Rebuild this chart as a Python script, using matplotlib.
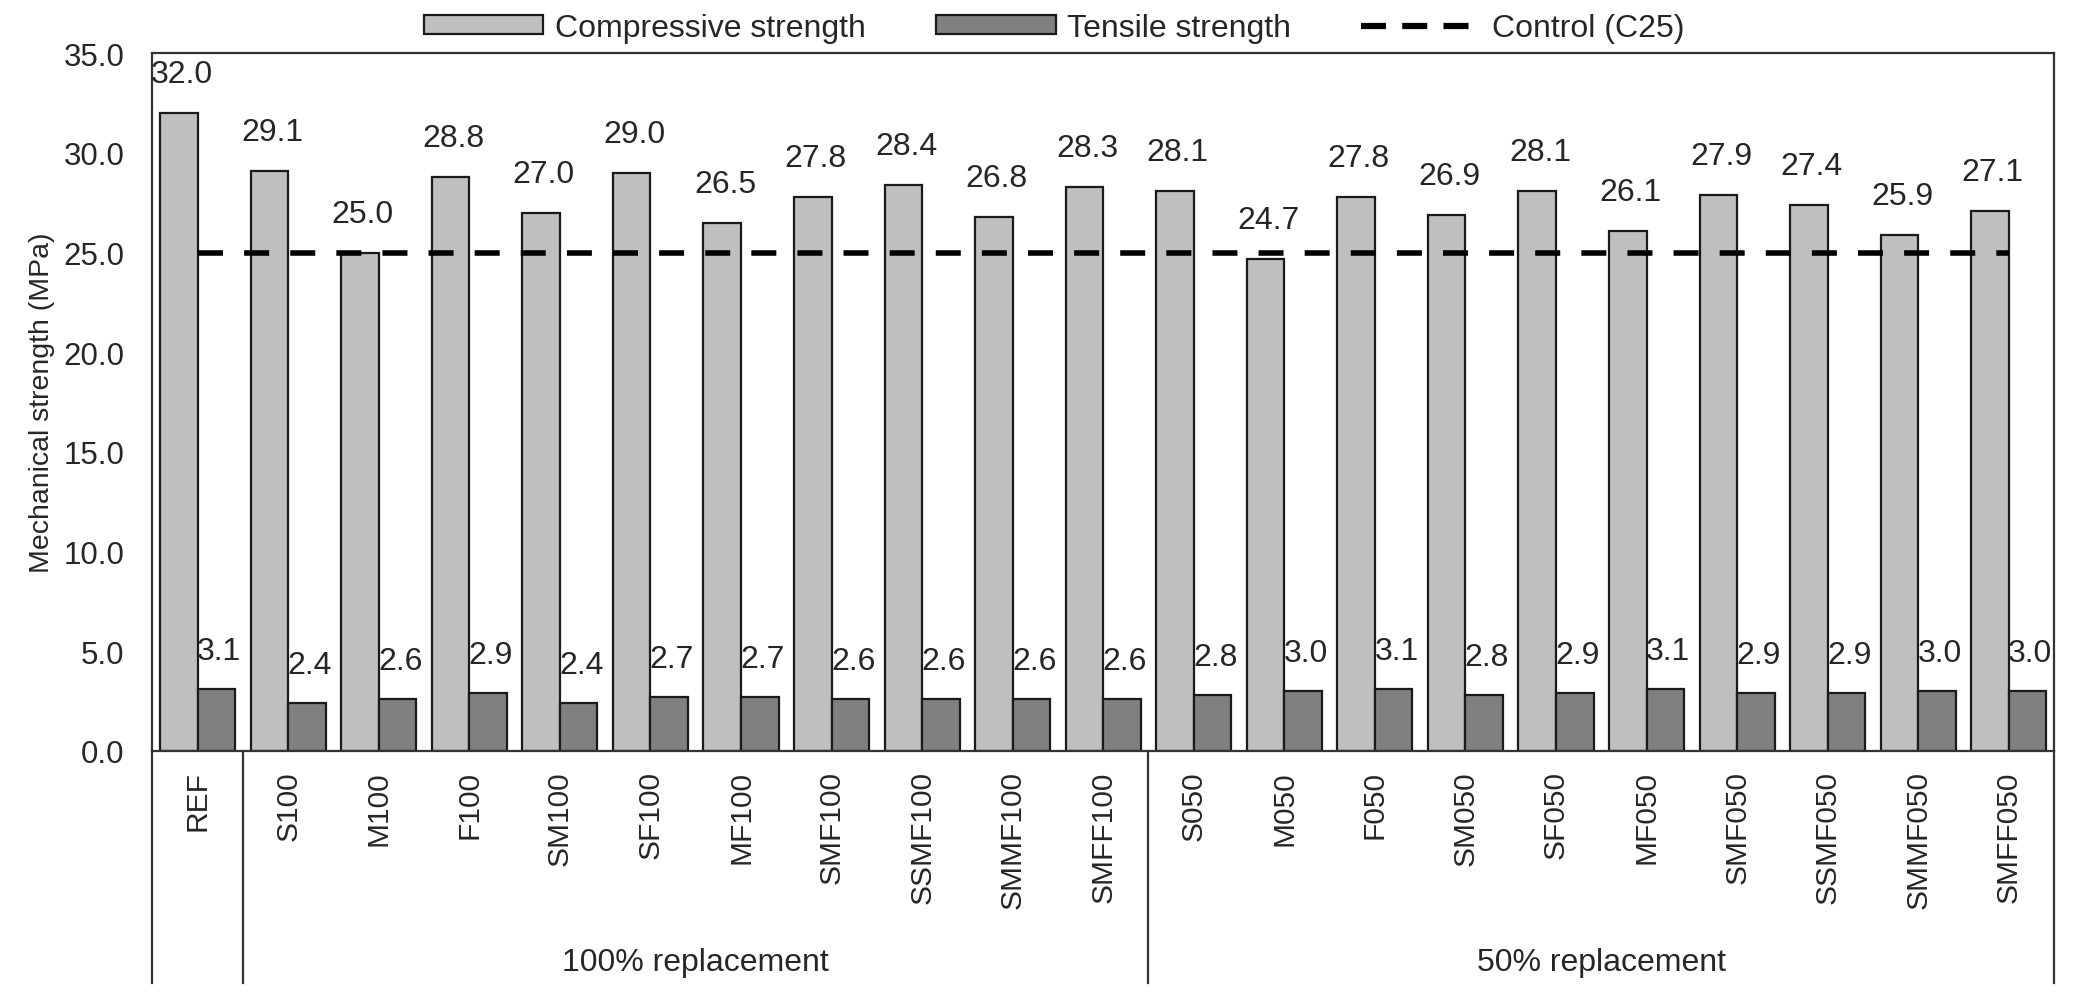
import numpy as np
import matplotlib
matplotlib.use("Agg")
import matplotlib.pyplot as plt
from matplotlib.patches import Patch
from matplotlib.lines import Line2D

plt.rcParams['font.family'] = ['Liberation Sans', 'DejaVu Sans']

categories = ['REF', 'S100', 'M100', 'F100', 'SM100', 'SF100', 'MF100', 'SMF100',
              'SSMF100', 'SMMF100', 'SMFF100', 'S050', 'M050', 'F050', 'SM050',
              'SF050', 'MF050', 'SMF050', 'SSMF050', 'SMMF050', 'SMFF050']
compressive = [32.0, 29.1, 25.0, 28.8, 27.0, 29.0, 26.5, 27.8, 28.4, 26.8, 28.3,
               28.1, 24.7, 27.8, 26.9, 28.1, 26.1, 27.9, 27.4, 25.9, 27.1]
tensile = [3.1, 2.4, 2.6, 2.9, 2.4, 2.7, 2.7, 2.6, 2.6, 2.6, 2.6,
           2.8, 3.0, 3.1, 2.8, 2.9, 3.1, 2.9, 2.9, 3.0, 3.0]
control = 25.0
groups = ['100% replacement', '50% replacement']
group_spans = [(1, 10), (11, 20)]

txt = '#262626'
fs = 23        # horizontal text
fs_v = 21.5    # rotated text

fig = plt.figure(figsize=(20.79, 10.04), dpi=100)
ax = fig.add_axes([0.0733, 0.251, 0.9147, 0.695])

x = np.arange(len(categories))
w = 0.415
b1 = ax.bar(x - w / 2, compressive, w, color='#bfbfbf', edgecolor='#1a1a1a', linewidth=1.6)
b2 = ax.bar(x + w / 2, tensile, w, color='#808080', edgecolor='#1a1a1a', linewidth=1.6)
ax.plot(x, [control] * len(x), color='black', linewidth=4, dashes=(4.5, 3.8))

for bars, vals in [(b1, compressive), (b2, tensile)]:
    for r, v in zip(bars, vals):
        ax.annotate(f'{v:.1f}', (r.get_x() + r.get_width() / 2, v), xytext=(2, 17),
                    textcoords='offset points', ha='center', va='bottom',
                    fontsize=fs, color=txt, annotation_clip=False)

ax.set_xlim(-0.5, len(categories) - 0.5)
ax.set_ylim(0, 35)
ax.set_yticks(np.arange(0, 35.1, 5))
ax.set_yticklabels([f'{t:.1f}' for t in np.arange(0, 35.1, 5)])
ax.set_xticks(x)
ax.set_xticklabels(categories, rotation=90, va='top')
ax.tick_params(axis='x', length=0, pad=14, labelsize=fs_v, labelcolor=txt)
ax.tick_params(axis='y', length=0, pad=20, labelsize=22.5, labelcolor=txt)
ax.set_ylabel('Mechanical strength (MPa)', fontsize=20.5, color=txt, labelpad=6)
for s in ax.spines.values():
    s.set_color('#333333')
    s.set_linewidth(1.6)

# category group separators below the axis
tr = ax.get_xaxis_transform()
for xb in [-0.5, 0.5, 10.5, 20.5]:
    ax.plot([xb, xb], [0, -0.333], transform=tr, color='#333333', linewidth=1.6, clip_on=False)
for name, (a, b) in zip(groups, group_spans):
    ax.text((a + b) / 2, -0.303, name, transform=tr, ha='center', va='center',
            fontsize=fs, color=txt)

handles = [Patch(facecolor='#bfbfbf', edgecolor='#1a1a1a', linewidth=1.6),
           Patch(facecolor='#808080', edgecolor='#1a1a1a', linewidth=1.6),
           Line2D([0], [0], color='black', linewidth=4.5, dashes=(4.0, 2.6))]
fig.legend(handles, ['Compressive strength', 'Tensile strength', 'Control (C25)'],
           loc='center', bbox_to_anchor=(0.507, 0.971), ncol=3, frameon=False,
           fontsize=fs, labelcolor=txt, handlelength=3.75, handleheight=0.55,
           handletextpad=0.35, columnspacing=2.2)

fig.savefig('out.png', dpi=100)
